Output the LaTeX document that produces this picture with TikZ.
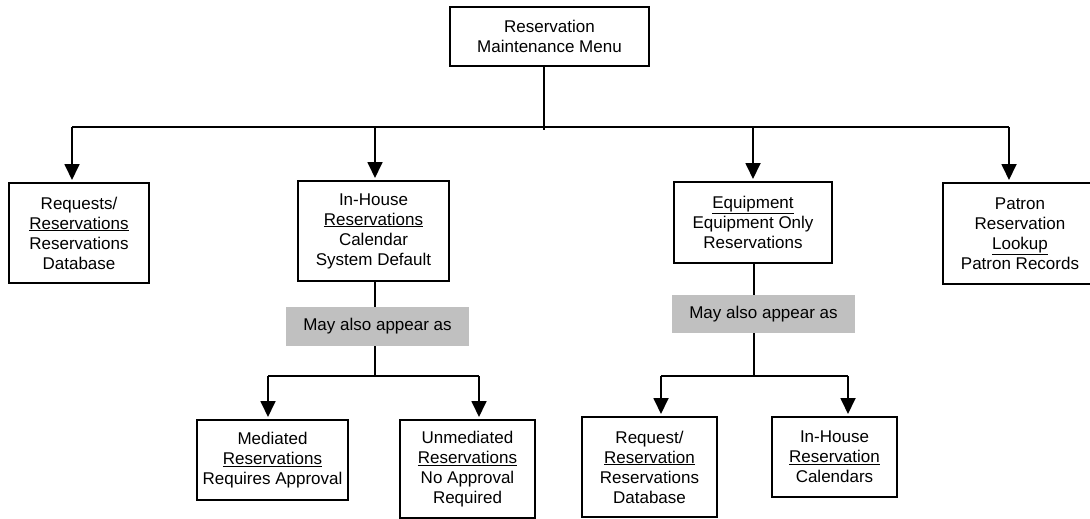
\documentclass[tikz,border=0pt]{standalone}
\usepackage{fontspec}
\setmainfont{Liberation Sans}
\usetikzlibrary{arrows.meta}
\definecolor{labelgray}{RGB}{192,192,192}
\tikzset{
  box/.style={draw=black, line width=1.8pt, fill=white, inner sep=0pt, outer sep=0pt,
    align=center, font=\fontsize{17}{20}\selectfont},
  graylabel/.style={fill=labelgray, draw=none, inner sep=0pt, outer sep=0pt,
    align=center, font=\fontsize{17}{20}\selectfont},
  conn/.style={line width=1.8pt, draw=black},
  arr/.style={conn, -{Triangle[width=15pt,length=16pt]}, shorten >=3pt}
}
\begin{document}
\begin{tikzpicture}[x=1pt,y=-1pt]
\useasboundingbox (0,0) rectangle (1090,519);

% main boxes
\node[box, minimum width=199pt, minimum height=59pt] (top) at (549.5,36.5) {Reservation\\Maintenance Menu};
\node[box, minimum width=140pt, minimum height=100pt] (req) at (79,233) {Requests/\\\underline{Reservations}\\Reservations\\Database};
\node[box, minimum width=151pt, minimum height=100pt] (inh) at (373.5,231) {In-House\\\underline{Reservations}\\Calendar\\System Default};
\node[box, minimum width=158pt, minimum height=81pt] (eq) at (753,222.5) {\underline{Equipment}\\Equipment Only\\Reservations};
\node[box, minimum width=154pt, minimum height=101pt] (pat) at (1020,233.5) {Patron\\Reservation\\\underline{Lookup}\\Patron Records};

% gray labels
\node[graylabel, minimum width=183pt, minimum height=39pt] (g1) at (377.5,326.5) {May also appear as};
\node[graylabel, minimum width=183pt, minimum height=38pt] (g2) at (763.5,314) {May also appear as};

% bottom boxes
\node[box, minimum width=151pt, minimum height=80pt] (med) at (272.5,460) {Mediated\\\underline{Reservations}\\Requires Approval};
\node[box, minimum width=135pt, minimum height=98pt] (unm) at (467.5,469) {Unmediated\\\underline{Reservations}\\No Approval\\Required};
\node[box, minimum width=135pt, minimum height=100pt] (rq2) at (649.5,467) {Request/\\\underline{Reservation}\\Reservations\\Database};
\node[box, minimum width=125pt, minimum height=80pt] (ih2) at (834.5,457) {In-House\\\underline{Reservation}\\Calendars};

% junction coordinates
\coordinate (j0) at (544,127);
\coordinate (b1) at (72,127);
\coordinate (b2) at (375,127);
\coordinate (b3) at (753,127);
\coordinate (b4) at (1009,127);
\coordinate (l0) at (375,376);
\coordinate (l1) at (268,376);
\coordinate (l2) at (479,376);
\coordinate (r0) at (754,376);
\coordinate (r1) at (661,376);
\coordinate (r2) at (848,376);

% top level connectors
\draw[conn] (top.south -| j0) -- ([yshift=-3pt]j0);
\draw[conn] (b1) -- (b4);
\draw[arr] (b1) -- (b1 |- req.north);
\draw[arr] (b2) -- (b2 |- inh.north);
\draw[arr] (b3) -- (b3 |- eq.north);
\draw[arr] (b4) -- (b4 |- pat.north);

% left sub-tree
\draw[conn] (inh.south -| l0) -- (g1.north -| l0);
\draw[conn] (g1.south -| l0) -- (l0);
\draw[conn] (l1) -- (l2);
\draw[arr] (l1) -- (l1 |- med.north);
\draw[arr] (l2) -- (l2 |- unm.north);

% right sub-tree
\draw[conn] (eq.south -| r0) -- (g2.north -| r0);
\draw[conn] (g2.south -| r0) -- (r0);
\draw[conn] (r1) -- (r2);
\draw[arr] (r1) -- (r1 |- rq2.north);
\draw[arr] (r2) -- (r2 |- ih2.north);
\end{tikzpicture}
\end{document}
